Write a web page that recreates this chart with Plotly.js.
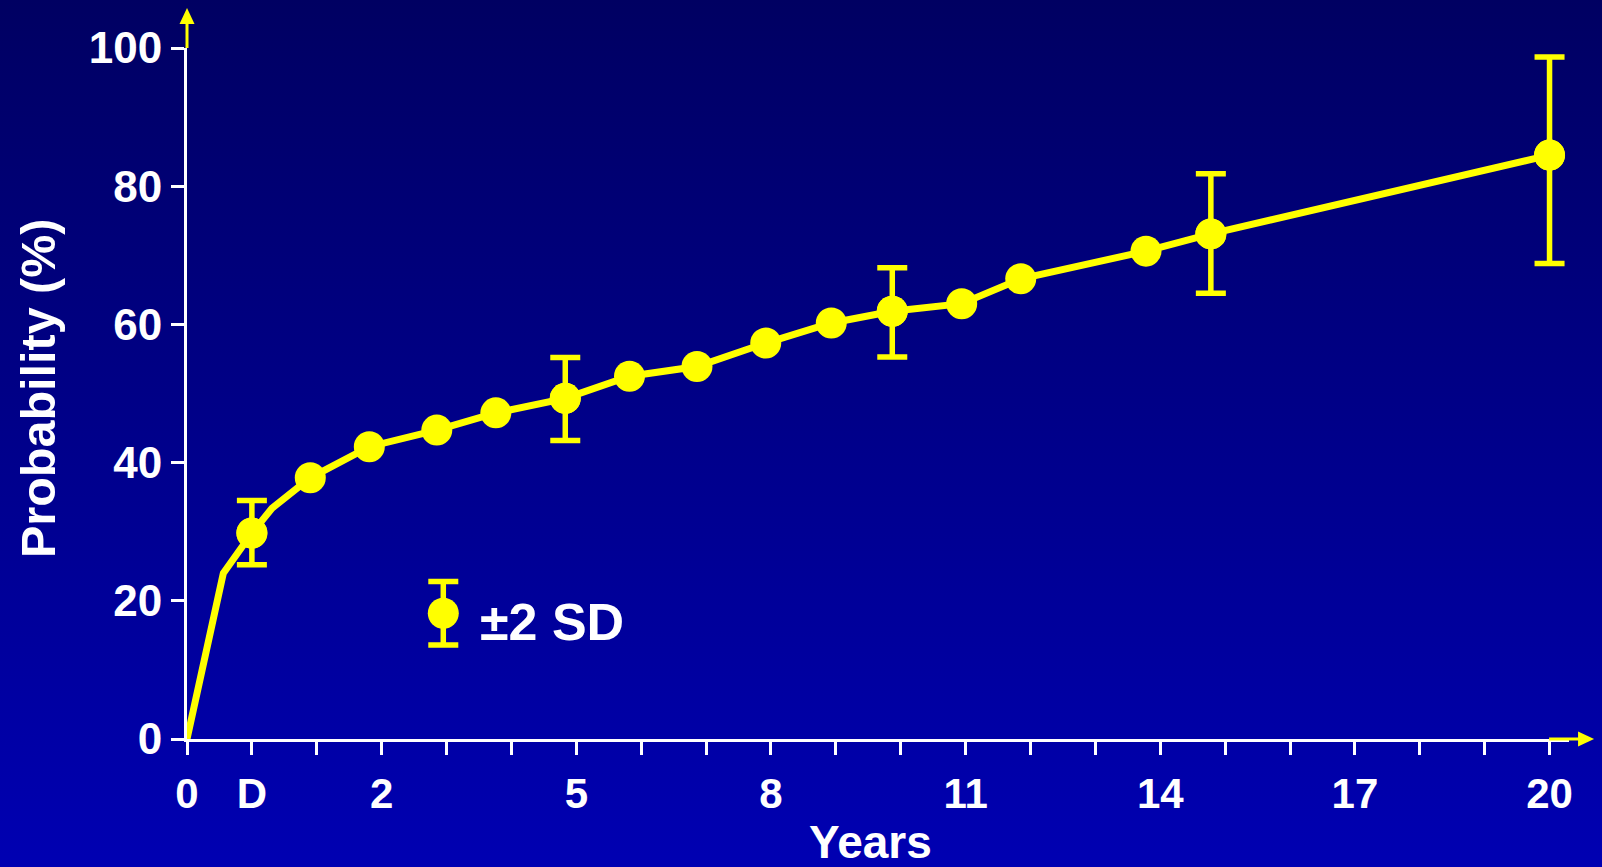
<!DOCTYPE html>
<html>
<head>
<meta charset="utf-8">
<script src="https://cdn.plot.ly/plotly-3.0.1.min.js"></script>
<style>
  html, body { margin: 0; padding: 0; width: 1602px; height: 867px; overflow: hidden;
    background: linear-gradient(to bottom, #000062 0%, #00008a 50%, #0000b2 100%); }
  #chart { width: 1602px; height: 867px; }
</style>
</head>
<body>
<div id="chart"></div>
<script>
// Axis positions: one unit per tick; label "D" at position 1, "2" at 3, ... "20" at 21
const tickPos   = [0,1,2,3,4,5,6,7,8,9,10,11,12,13,14,15,16,17,18,19,20,21];
const tickText  = ['0','D','','2','','','5','','','8','','','11','','','14','','','17','','','20'];
const yTicks    = [0,20,40,60,80,100];

// Curve points (x in tick positions), probability in %
const xPos   = [0, 0.56, 1.0, 1.31, 1.90, 2.81, 3.85, 4.76, 5.83, 6.82, 7.86, 8.92, 9.93, 10.87, 11.94, 12.85, 14.78, 15.78, 21.0];
const prob   = [0, 24.0, 29.8, 33.4, 37.8, 42.3, 44.7, 47.2, 49.3, 52.5, 53.9, 57.3, 60.2, 61.9, 63.0, 66.6, 70.6, 73.1, 84.5];
const marked = [0, 0, 1, 0, 1, 1, 1, 1, 1, 1, 1, 1, 1, 1, 1, 1, 1, 1, 1];
// ±2 SD bars (upper / lower extent), null = none
const errUp   = [null, null, 4.7, null, null, null, null, null, 5.9, null, null, null, null, 6.3, null, null, null, 8.7, 14.2];
const errDown = [null, null, 4.6, null, null, null, null, null, 6.1, null, null, null, null, 6.6, null, null, null, 8.6, 15.7];

// Legend sample
const legendX = [3.95], legendY = [18.2], legendErr = [4.6];
const legendLabel = '±2 SD';
const xTitle = 'Years';
const yTitle = 'Probability (%)';

const YELLOW = '#ffff00';
const FONT = 'Liberation Sans, Arial, sans-serif';

// plot geometry
const L = 187, T = 48, PX_X = 64.86, X_END = 21, X_MAX = 21.3;
const PW = Math.round(X_MAX * PX_X), PH = 691;
const px2paperX = px => (px - L) / PW;
const py2paperY = py => (T + PH - py) / PH;

const mx = [], my = [];
const ex = [], ey = [], eu = [], ed = [];
xPos.forEach((x, i) => {
  if (marked[i]) { mx.push(x); my.push(prob[i]); }
  if (errUp[i] !== null) { ex.push(x); ey.push(prob[i]); eu.push(errUp[i]); ed.push(errDown[i]); }
});

const traces = [
  { x: xPos, y: prob, mode: 'lines', line: { color: YELLOW, width: 7 }, cliponaxis: false, hoverinfo: 'skip' },
  { x: ex, y: ey, mode: 'markers', marker: { color: YELLOW, size: 31 }, cliponaxis: false,
    error_y: { type: 'data', symmetric: false, array: eu, arrayminus: ed, color: YELLOW, thickness: 5.5, width: 15 } },
  { x: mx, y: my, mode: 'markers', marker: { color: YELLOW, size: 31 }, cliponaxis: false },
  { x: legendX, y: legendY, mode: 'markers', marker: { color: YELLOW, size: 31 }, cliponaxis: false,
    error_y: { type: 'data', array: legendErr, color: YELLOW, thickness: 5.5, width: 15 } }
];

// axis arrows (pixel geometry converted to paper units)
const xAxisEndPx = L + X_END * PX_X;   // where the x axis' last tick sits
const axisBottomPx = T + PH;
const shapes = [
  { type: 'line', xref: 'paper', yref: 'paper', x0: 0, x1: 0, y0: 1, y1: py2paperY(23),
    line: { color: YELLOW, width: 3 } },
  { type: 'path', xref: 'paper', yref: 'paper', fillcolor: YELLOW, line: { width: 0 },
    path: `M ${px2paperX(L - 7.5)} ${py2paperY(24)} L ${px2paperX(L + 7.5)} ${py2paperY(24)} L 0 ${py2paperY(8)} Z` },
  { type: 'line', xref: 'paper', yref: 'paper', x0: px2paperX(xAxisEndPx), x1: px2paperX(xAxisEndPx + 30), y0: 0, y1: 0,
    line: { color: YELLOW, width: 3 } },
  { type: 'path', xref: 'paper', yref: 'paper', fillcolor: YELLOW, line: { width: 0 },
    path: `M ${px2paperX(xAxisEndPx + 29)} ${py2paperY(axisBottomPx + 7.5)} L ${px2paperX(xAxisEndPx + 29)} ${py2paperY(axisBottomPx - 7.5)} L ${px2paperX(xAxisEndPx + 45)} 0 Z` }
];

const layout = {
  width: 1602, height: 867,
  margin: { l: L, r: 1602 - L - PW, t: T, b: 867 - T - PH },
  paper_bgcolor: 'rgba(0,0,0,0)', plot_bgcolor: 'rgba(0,0,0,0)',
  showlegend: false,
  font: { family: FONT, color: '#ffffff', weight: 'bold' },
  xaxis: {
    range: [0, X_MAX], tickmode: 'array', tickvals: tickPos, ticktext: tickText,
    showgrid: false, zeroline: false, showline: true, linecolor: '#ffffff', linewidth: 3,
    ticks: 'outside', ticklen: 13, tickwidth: 3, tickcolor: '#ffffff',
    tickfont: { family: FONT, size: 42, color: '#ffffff', weight: 'bold' },
    ticklabelstandoff: 3,
    fixedrange: true
  },
  yaxis: {
    range: [0, 100], tickmode: 'array', tickvals: yTicks,
    showgrid: false, zeroline: false, showline: true, linecolor: '#ffffff', linewidth: 3,
    ticks: 'outside', ticklen: 13, tickwidth: 3, tickcolor: '#ffffff',
    tickfont: { family: FONT, size: 44, color: '#ffffff', weight: 'bold' },
    fixedrange: true
  },
  shapes: shapes,
  annotations: [
    { xref: 'x', yref: 'y', x: 4.48, y: 16.9, xanchor: 'left', yanchor: 'middle', showarrow: false,
      text: legendLabel, font: { family: FONT, size: 52, color: '#ffffff', weight: 'bold' } },
    { xref: 'paper', yref: 'paper', x: px2paperX(870), y: py2paperY(842), xanchor: 'center', yanchor: 'middle',
      showarrow: false, text: xTitle, font: { family: FONT, size: 46, color: '#ffffff', weight: 'bold' } },
    { xref: 'paper', yref: 'paper', x: px2paperX(38), y: py2paperY(388), xanchor: 'center', yanchor: 'middle',
      textangle: -90, showarrow: false, text: yTitle, font: { family: FONT, size: 48.5, color: '#ffffff', weight: 'bold' } }
  ]
};

Plotly.newPlot('chart', traces, layout, { displayModeBar: false, staticPlot: true });
</script>
</body>
</html>
